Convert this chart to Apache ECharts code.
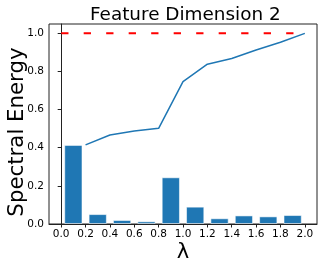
<!DOCTYPE html>
<html><head><meta charset="utf-8">
<script src="https://cdn.jsdelivr.net/npm/echarts@6/dist/echarts.min.js"></script>
<style>html,body{margin:0;padding:0;background:#fff}#c{width:323px;height:267px}</style>
</head><body><div id="c"></div>
<script>
const barCenters = [0.1, 0.3, 0.5, 0.7, 0.9, 1.1, 1.3, 1.5, 1.7, 1.9];
const barValues = [0.415, 0.052, 0.021, 0.014, 0.245, 0.091, 0.030, 0.045, 0.040, 0.047];
const lineX = [0.2, 0.4, 0.6, 0.8, 1.0, 1.2, 1.4, 1.6, 1.8, 2.0];
const lineValues = [0.415, 0.467, 0.488, 0.502, 0.747, 0.838, 0.868, 0.913, 0.953, 1.0];
const refX = [0.0, 2.0];
const refY = [1.0, 1.0];
const xTicks = [0.0, 0.2, 0.4, 0.6, 0.8, 1.0, 1.2, 1.4, 1.6, 1.8, 2.0];
const yTicks = [0.0, 0.2, 0.4, 0.6, 0.8, 1.0];

const F = 'DejaVu Sans';
const chart = echarts.init(document.getElementById('c'), null, {renderer: 'canvas'});
const gridW = 323 - 49 - 6;
const barPx = 0.15 * gridW / 2.2;
chart.setOption({
  animation: false,
  title: {text: 'Feature Dimension 2', left: 85, top: 1,
    textStyle: {fontFamily: F, fontSize: 18.4, fontWeight: 'normal', color: '#000'}},
  grid: {left: 49, right: 6, top: 24, bottom: 43, show: true, borderColor: '#222', borderWidth: 1,
    outerBoundsMode: 'none', containLabel: false},
  xAxis: {type: 'value', min: -0.1, max: 2.1,
    name: 'λ', nameLocation: 'middle', nameGap: 18, nameMoveOverlap: false,
    nameTextStyle: {fontFamily: F, fontSize: 21, color: '#000'},
    splitLine: {show: false},
    axisLine: {show: true, onZero: false, lineStyle: {color: '#222', width: 1}},
    axisTick: {show: true, length: 3.5, lineStyle: {color: '#222'}, customValues: xTicks},
    axisLabel: {fontFamily: F, fontSize: 10.5, color: '#000', margin: 5,
      customValues: xTicks, formatter: v => v.toFixed(1)}},
  yAxis: {type: 'value', min: 0, max: 1.049,
    name: 'Spectral Energy', nameLocation: 'middle', nameGap: 21, nameMoveOverlap: false,
    nameTextStyle: {fontFamily: F, fontSize: 21.3, color: '#000', padding: [0, 16, 0, 0]},
    splitLine: {show: false},
    axisLine: {show: true, lineStyle: {color: '#222', width: 1}},
    axisTick: {show: true, length: 3.5, lineStyle: {color: '#222'}, customValues: yTicks},
    axisLabel: {fontFamily: F, fontSize: 10.5, color: '#000', margin: 5,
      customValues: yTicks, formatter: v => v.toFixed(1)}},
  series: [
    {type: 'bar', data: barCenters.map((x, i) => [x, barValues[i]]), barWidth: barPx,
      itemStyle: {color: '#1f77b4', borderColor: 'rgba(255,255,255,0.55)', borderWidth: 1}},
    {type: 'line', data: lineX.map((x, i) => [x, lineValues[i]]), showSymbol: false,
      lineStyle: {color: '#1f77b4', width: 1.5}},
    {type: 'line', data: refX.map((x, i) => [x, refY[i]]), showSymbol: false,
      lineStyle: {color: '#ff0000', width: 2, type: [7.3, 15.2]}}
  ]
});
</script></body></html>
